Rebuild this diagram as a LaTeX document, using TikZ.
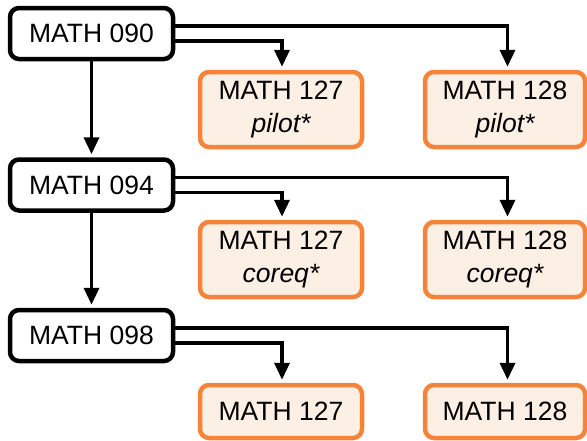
\documentclass[tikz,border=0pt]{standalone}
\usepackage{fontspec}
\setmainfont{Liberation Sans}
\usetikzlibrary{arrows.meta}
\definecolor{orline}{HTML}{F3843A}
\definecolor{orfill}{HTML}{FCEFE3}
\begin{document}
\begin{tikzpicture}[x=1pt,y=-1pt,
  base/.style={rounded corners=9pt,line width=4.5pt,align=center,inner sep=0pt,
    font=\fontsize{26.5}{33}\selectfont},
  blackbox/.style={base,draw=black,fill=white,minimum width=163pt,minimum height=51pt},
  orbox/.style={base,draw=orline,fill=orfill,minimum height=75pt},
  arr/.style={line width=3.6pt,-{Triangle[length=17pt,width=15pt]},shorten >=3pt}]
\useasboundingbox (0,0) rectangle (587,440);
% black boxes
\node[blackbox] (a90) at (91.5,33.5) {MATH 090};
\node[blackbox] (a94) at (91.5,185) {MATH 094};
\node[blackbox] (a98) at (91.5,335.5) {MATH 098};
% orange boxes
\node[orbox,minimum width=162pt] (p127) at (281,109.5) {MATH 127\\\itshape pilot*};
\node[orbox,minimum width=160pt] (p128) at (505,109.5) {MATH 128\\\itshape pilot*};
\node[orbox,minimum width=162pt] (c127) at (281,259.5) {MATH 127\\\itshape coreq*};
\node[orbox,minimum width=160pt] (c128) at (505,259.5) {MATH 128\\\itshape coreq*};
\node[orbox,minimum width=162pt,minimum height=53pt] (m127) at (281,411.5) {MATH 127};
\node[orbox,minimum width=160pt,minimum height=53pt] (m128) at (505,411.5) {MATH 128};
% vertical connectors
\draw[arr] (a90.south) -- (a94.north);
\draw[arr] (a94.south) -- (a98.north);
% horizontal connectors
\foreach \s/\l/\r in {a90/p127/p128, a94/c127/c128, a98/m127/m128}{
  \draw[arr] ([yshift=-7.5pt]\s.east) -| ([xshift=1pt]\l.north);
  \draw[arr] ([yshift=7.5pt]\s.east) -| ([xshift=2.5pt]\r.north);
}
\end{tikzpicture}
\end{document}
